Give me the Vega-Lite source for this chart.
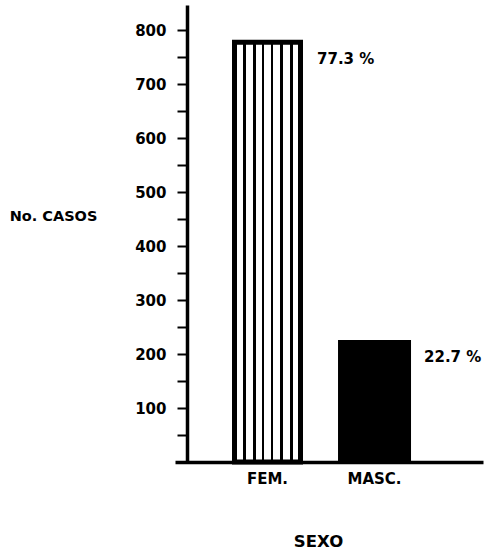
{
  "$schema": "https://vega.github.io/schema/vega-lite/v6.json",
  "autosize": "none",
  "padding": {"left": 175, "top": 5, "right": 5, "bottom": 93},
  "width": 308,
  "height": 457,
  "background": "white",
  "config": {
    "view": {"stroke": null},
    "font": "DejaVu Sans"
  },
  "data": {
    "values": [
      {"SEXO": "FEM.", "casos": 778, "pct": "77.3 %"},
      {"SEXO": "MASC.", "casos": 226, "pct": "22.7 %"}
    ]
  },
  "encoding": {
    "x": {
      "field": "SEXO",
      "type": "nominal",
      "sort": ["FEM.", "MASC."],
      "scale": {"paddingInner": 0, "paddingOuter": 0.439, "align": 0.415},
      "axis": {
        "title": "SEXO",
        "labelAngle": 0,
        "labelFont": "DejaVu Sans",
        "labelFontWeight": "bold",
        "labelFontSize": 15,
        "labelColor": "black",
        "labelPadding": 9,
        "labelBaseline": "top",
        "ticks": false,
        "tickSize": 0,
        "domainColor": "black",
        "domainWidth": 3.5,
        "titleFont": "DejaVu Sans",
        "titleFontWeight": "bold",
        "titleFontSize": 16.5,
        "titleColor": "black",
        "titleX": 143,
        "titleY": 79,
        "titleAlign": "center",
        "titleBaseline": "middle"
      }
    },
    "y": {
      "field": "casos",
      "type": "quantitative",
      "scale": {"domain": [0, 847], "nice": false},
      "axis": {
        "title": "No. CASOS",
        "offset": -12,
        "values": [50, 100, 150, 200, 250, 300, 350, 400, 450, 500, 550, 600, 650, 700, 750, 800],
        "labelExpr": "datum.value % 100 === 0 ? datum.label : ''",
        "grid": false,
        "labelFont": "DejaVu Sans",
        "labelFontWeight": "bold",
        "labelFontSize": 15,
        "labelColor": "black",
        "labelPadding": 11,
        "tickColor": "black",
        "tickWidth": 2,
        "tickSize": 10,
        "domainColor": "black",
        "domainWidth": 3.5,
        "titleFont": "DejaVu Sans",
        "titleFontWeight": "bold",
        "titleFontSize": 14.5,
        "titleColor": "black",
        "titleAngle": 0,
        "titleX": -134,
        "titleY": 211,
        "titleAlign": "center",
        "titleBaseline": "middle",
        "encode": {
          "ticks": {"update": {"x": {"value": 0}, "x2": {"signal": "datum.value % 100 === 0 ? -10 : -5"}}}
        }
      }
    }
  },
  "layer": [
    {
      "transform": [{"filter": "datum.SEXO === 'FEM.'"}],
      "mark": {
        "type": "bar",
        "width": 66,
        "stroke": "black",
        "strokeWidth": 5,
        "fill": {
          "gradient": "linear",
          "x1": 0, "x2": 1, "y1": 0, "y2": 0,
          "stops": [
            {"offset": 0, "color": "white"},
            {"offset": 0.131, "color": "white"},
            {"offset": 0.131, "color": "black"},
            {"offset": 0.169, "color": "black"},
            {"offset": 0.169, "color": "white"},
            {"offset": 0.281, "color": "white"},
            {"offset": 0.281, "color": "black"},
            {"offset": 0.319, "color": "black"},
            {"offset": 0.319, "color": "white"},
            {"offset": 0.416, "color": "white"},
            {"offset": 0.416, "color": "black"},
            {"offset": 0.454, "color": "black"},
            {"offset": 0.454, "color": "white"},
            {"offset": 0.547, "color": "white"},
            {"offset": 0.547, "color": "black"},
            {"offset": 0.585, "color": "black"},
            {"offset": 0.585, "color": "white"},
            {"offset": 0.691, "color": "white"},
            {"offset": 0.691, "color": "black"},
            {"offset": 0.729, "color": "black"},
            {"offset": 0.729, "color": "white"},
            {"offset": 0.841, "color": "white"},
            {"offset": 0.841, "color": "black"},
            {"offset": 0.879, "color": "black"},
            {"offset": 0.879, "color": "white"},
            {"offset": 1, "color": "white"}
          ]
        }
      }
    },
    {
      "transform": [{"filter": "datum.SEXO === 'MASC.'"}],
      "mark": {"type": "bar", "width": 73, "fill": "black"}
    },
    {
      "mark": {
        "type": "text",
        "align": "left",
        "baseline": "middle",
        "dx": 49.5,
        "dy": 17,
        "font": "DejaVu Sans",
        "fontWeight": "bold",
        "fontSize": 15,
        "color": "black"
      },
      "encoding": {"text": {"field": "pct"}}
    }
  ]
}
